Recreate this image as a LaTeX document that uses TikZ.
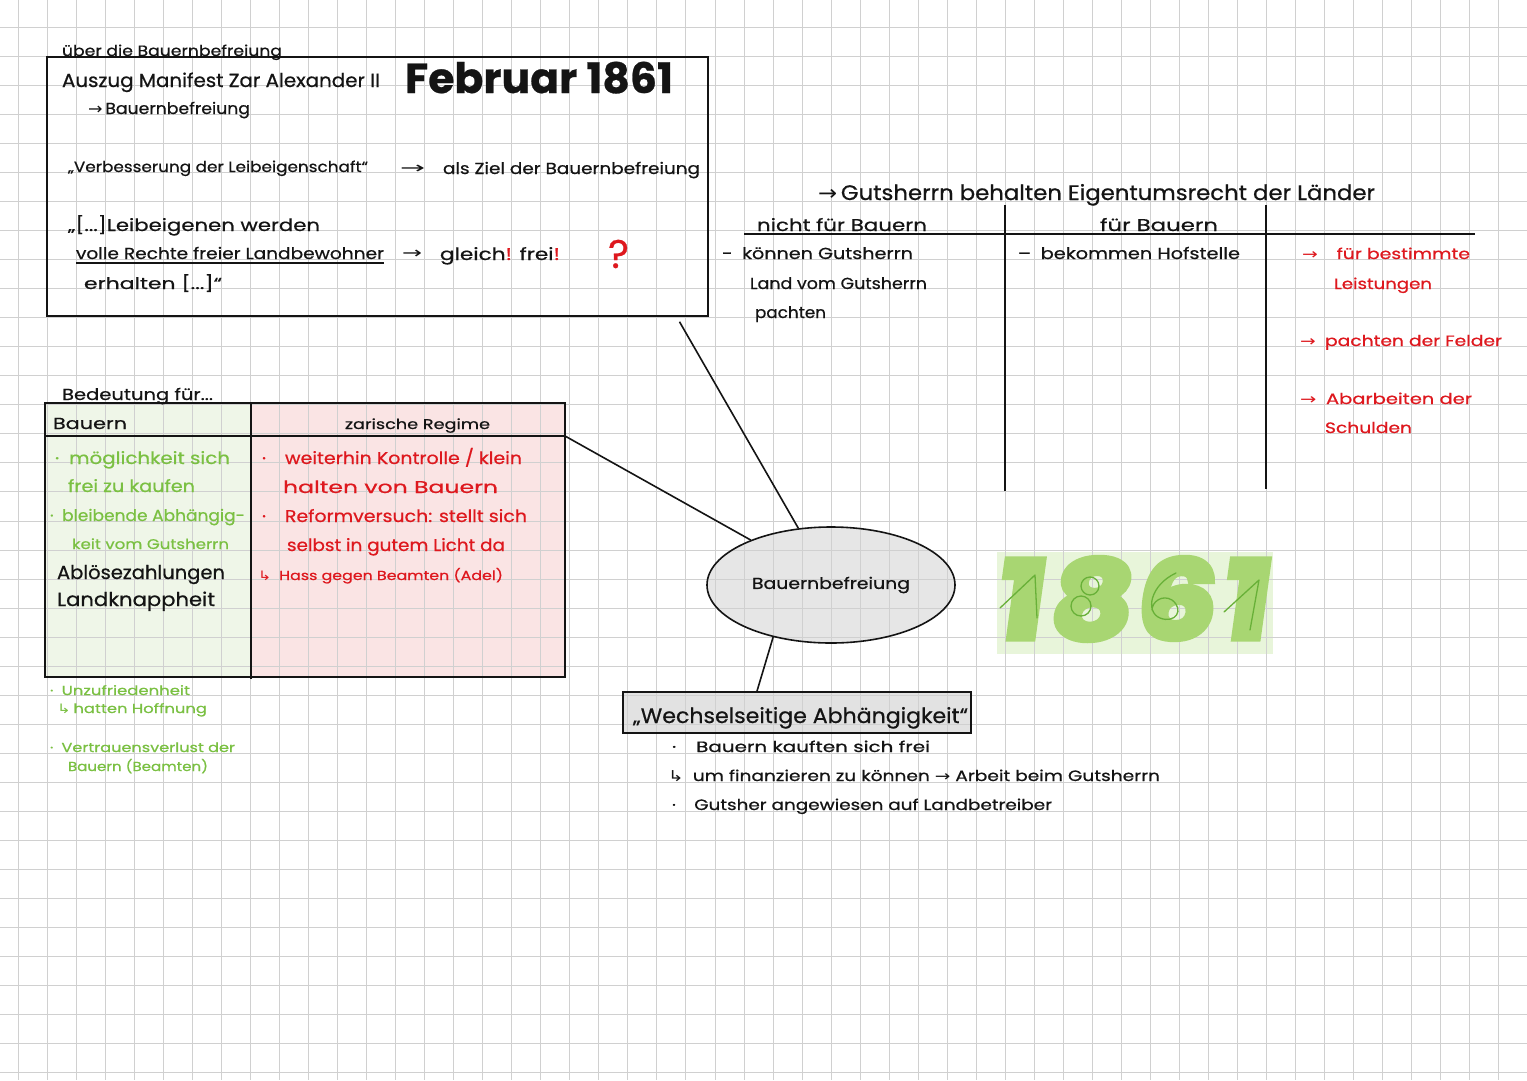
\documentclass[tikz,border=0pt]{standalone}
\usepackage{fontspec}
\setmainfont{Poppins}[FakeBold=0.6]
\newfontfamily\sym{DejaVu Sans}
\newfontfamily\blobf{Poppins}[FakeBold=6, FakeSlant=0.12]
\usetikzlibrary{calc,shapes.geometric}
\definecolor{gridc}{RGB}{208,208,208}
\definecolor{hgreen}{RGB}{122,192,66}
\definecolor{hred}{RGB}{222,24,30}
\definecolor{ink}{RGB}{20,20,20}
\definecolor{gfill}{RGB}{239,246,232}
\definecolor{rfill}{RGB}{250,228,228}
\definecolor{efill}{RGB}{230,230,230}
\definecolor{wfill}{RGB}{226,226,226}
\definecolor{ybg}{RGB}{232,245,218}
\definecolor{yblob}{RGB}{168,214,114}
\definecolor{yline}{RGB}{104,176,56}
\newcommand\fw[2]{\resizebox{#1pt}{\height}{#2}}
\pgfdeclarelayer{back}
\pgfdeclarelayer{gridl}
\pgfsetlayers{back,gridl,main}
\begin{document}
\begin{tikzpicture}[x=1pt,y=-1pt,
  hw/.style={anchor=base west, inner sep=0pt, outer sep=0pt, text=ink, font=\fontsize{#1pt}{#1pt}\selectfont},
  frame/.style={draw=ink, line width=1.8pt},
  conn/.style={draw=ink, line width=1.6pt},
  gridline/.style={draw=gridc, line width=1pt},
  blob/.style={inner sep=0pt, text=yblob, font=\fontsize{108pt}{108pt}\selectfont\blobf\bfseries},
  thinstroke/.style={draw=yline, line width=1.3pt, line cap=round, line join=round}]
\useasboundingbox (0,0) rectangle (1527,1080);

% ---------- grid ----------
\begin{pgfonlayer}{gridl}
\foreach \i in {0,...,51} \draw[gridline] ({18.3+29.03*\i},0) -- ({18.3+29.03*\i},1080);
\foreach \j in {0,...,36} \draw[gridline] (0,{27.5+29.03*\j}) -- (1527,{27.5+29.03*\j});
\end{pgfonlayer}

% ---------- top box ----------
\node[frame, line width=1.5pt, minimum width=661pt, minimum height=259pt, inner sep=0pt] (box) at (377.5,186.5) {};
\node[hw=15] (t1) at (62,56) {\fw{220}{über die Bauernbefreiung}};
\node[hw=19] (t2) at (62,87) {\fw{318}{Auszug Manifest Zar Alexander II}};
\node[hw=42] (t3) at (405,93) {\bfseries\fw{268}{Februar 1861}};
\node[hw=16] (t4) at (88,114) {\fw{162}{{\sym →}\,Bauernbefreiung}};
\node[hw=15] (t5) at (68,172) {\fw{300}{„Verbesserung der Leibeigenschaft“}};
\node[hw=16] (t6) at (400,173) {\fw{25}{\sym →}};
\node[hw=16] (t7) at (443,174) {\fw{257}{als Ziel der Bauernbefreiung}};
\node[hw=17] (t8) at (68,231) {\fw{252}{„[...]Leibeigenen werden}};
\node[hw=16] (t9) at (76,259) {\fw{308}{volle Rechte freier Landbewohner}};
\draw[ink, line width=1.4pt] ($(t9.base west)+(0,4)$) -- ($(t9.base east)+(0,4)$);
\node[hw=16] (t10) at (402,258) {\fw{20}{\sym →}};
\node[hw=17] (t11) at (440,260) {\fw{120}{gleich{\color{hred}!} frei{\color{hred}!}}};
\node[hw=40, text=hred] (t12) at (608,268) {?};
\node[hw=16] (t13) at (84,289) {\fw{138}{erhalten [...]“}};

% ---------- right T-table ----------
\node[hw=21] (r1) at (818,200) {\fw{557}{{\sym →}\,Gutsherrn behalten Eigentumsrecht der Länder}};
\node[hw=17] (r2) at (757,231) {\fw{170}{nicht für Bauern}};
\node[hw=17] (r3) at (1100,231) {\fw{118}{für Bauern}};
\draw[frame] (744,234) -- (1475,234);
\draw[frame] (1005,205) -- (1005,491);
\draw[frame] (1266,205) -- (1266,489);
\node[hw=16] (r4) at (722,259) {\fw{191}{-\enspace können Gutsherrn}};
\node[hw=16] (r5) at (750,289) {\fw{177}{Land vom Gutsherrn}};
\node[hw=16] (r6) at (755,318) {\fw{71}{pachten}};
\node[hw=16] (r7) at (1018,259) {\fw{222}{–\enspace bekommen Hofstelle}};
\node[hw=15, text=hred] (r8) at (1302,259) {\fw{168}{{\sym →}\quad für bestimmte}};
\node[hw=15, text=hred] (r9) at (1334,289) {\fw{98}{Leistungen}};
\node[hw=15, text=hred] (r10) at (1300,346) {\fw{202}{{\sym →}\enspace pachten der Felder}};
\node[hw=15, text=hred] (r11) at (1300,404) {\fw{172}{{\sym →}\enspace Abarbeiten der}};
\node[hw=15, text=hred] (r12) at (1325,433) {\fw{87}{Schulden}};

% ---------- left table ----------
\node[hw=16] (b0) at (62,400) {\fw{151}{Bedeutung für...}};
\node[frame, minimum width=520pt, minimum height=274pt, inner sep=0pt] (tbl) at (305,540) {};
\coordinate (hdrL) at (45,436);
\coordinate (hdrR) at (565,436);
\draw[frame] (hdrL) -- (hdrR);
\draw[frame] (251,403) -- (251,679);
\node[hw=16] (b1) at (53,429) {\fw{74}{Bauern}};
\node[hw=14] (b2) at (345,429) {\fw{145}{zarische Regime}};
\node[hw=17,text=hgreen] (g1) at (55,464) {\fw{175}{·\enspace möglichkeit sich}};
\node[hw=17,text=hgreen] (g2) at (68,492) {\fw{127}{frei zu kaufen}};
\node[hw=16,text=hgreen] (g3) at (50,521) {\fw{195}{·\enspace bleibende Abhängig-}};
\node[hw=14,text=hgreen] (g4) at (72,549) {\fw{157}{keit vom Gutsherrn}};
\node[hw=19] (g5) at (57,579) {\fw{168}{Ablösezahlungen}};
\node[hw=19] (g6) at (57,606) {\fw{158}{Landknappheit}};
\node[hw=17,text=hred] (z1) at (262,464) {\fw{260}{·\quad weiterhin Kontrolle / klein}};
\node[hw=17,text=hred] (z2) at (283,493) {\fw{215}{halten von Bauern}};
\node[hw=17,text=hred] (z3) at (262,522) {\fw{265}{·\quad Reformversuch: stellt sich}};
\node[hw=17,text=hred] (z4) at (287,551) {\fw{218}{selbst in gutem Licht da}};
\node[hw=13,text=hred] (z5) at (258,580) {\fw{245}{{\sym ↳}\enspace Hass gegen Beamten (Adel)}};
\node[hw=13,text=hgreen] (u1) at (50,695) {\fw{140}{·\enspace Unzufriedenheit}};
\node[hw=13,text=hgreen] (u2) at (57,713) {\fw{150}{{\sym ↳}\,hatten Hoffnung}};
\node[hw=13,text=hgreen] (u3) at (50,752) {\fw{185}{·\enspace Vertrauensverlust der}};
\node[hw=13,text=hgreen] (u4) at (68,771) {\fw{140}{Bauern (Beamten)}};

% ---------- centre ----------
\node[ellipse, frame, line width=1.6pt, minimum width=248pt, minimum height=116pt, inner sep=0pt, text=ink, font=\fontsize{16pt}{16pt}\selectfont] (ell) at (831,585) {\fw{158}{Bauernbefreiung}};
\node[frame, minimum width=348pt, minimum height=41pt, inner sep=0pt] (wbox) at (797,712.5) {};
\node[hw=21] (w1) at (633,723) {\fw{335}{„Wechselseitige Abhängigkeit“}};
\node[hw=15] (w2) at (672,752) {\fw{258}{·\quad Bauern kauften sich frei}};
\node[hw=15] (w3) at (668,781) {\fw{492}{{\sym ↳}\enspace um finanzieren zu können {\sym →} Arbeit beim Gutsherrn}};
\node[hw=15] (w4) at (672,810) {\fw{380}{·\quad Gutsher angewiesen auf Landbetreiber}};

% connectors
\draw[conn] ($(box.south)+(302,5)$) -- (ell);
\draw[conn] (hdrR) -- (ell);
\draw[conn] (ell.222) -- ($(wbox.north)+(-40,0)$);

% ---------- 1861 ----------
\node[blob] (yr) at (1130,599) {\fw{272}{1\kern6pt 8\kern4pt 6\kern6pt 1}};
\draw[thinstroke] (1000,608) -- (1035,575) -- (1037,618);
\draw[thinstroke] (1090,586) circle[x radius=9, y radius=9];
\draw[thinstroke] (1081,606) circle[x radius=10, y radius=10];
\draw[thinstroke] (1176,573) .. controls (1150,585) and (1145,612) .. (1160,618) .. controls (1175,624) and (1185,610) .. (1172,600) .. controls (1162,594) and (1152,602) .. (1152,610);
\draw[thinstroke] (1224,612) -- (1259,580) -- (1250,630);

% ---------- fills ----------
\begin{pgfonlayer}{back}
\fill[white] (0,0) rectangle (1527,1080);
\fill[gfill] (45,403) rectangle (251,677);
\fill[rfill] (251,403) rectangle (565,677);
\fill[efill] (ell.center) ellipse (124 and 58);
\fill[wfill] (wbox.north west) rectangle (wbox.south east);
\fill[ybg] (997,552) rectangle (1273,654);
\end{pgfonlayer}
\end{tikzpicture}
\end{document}
